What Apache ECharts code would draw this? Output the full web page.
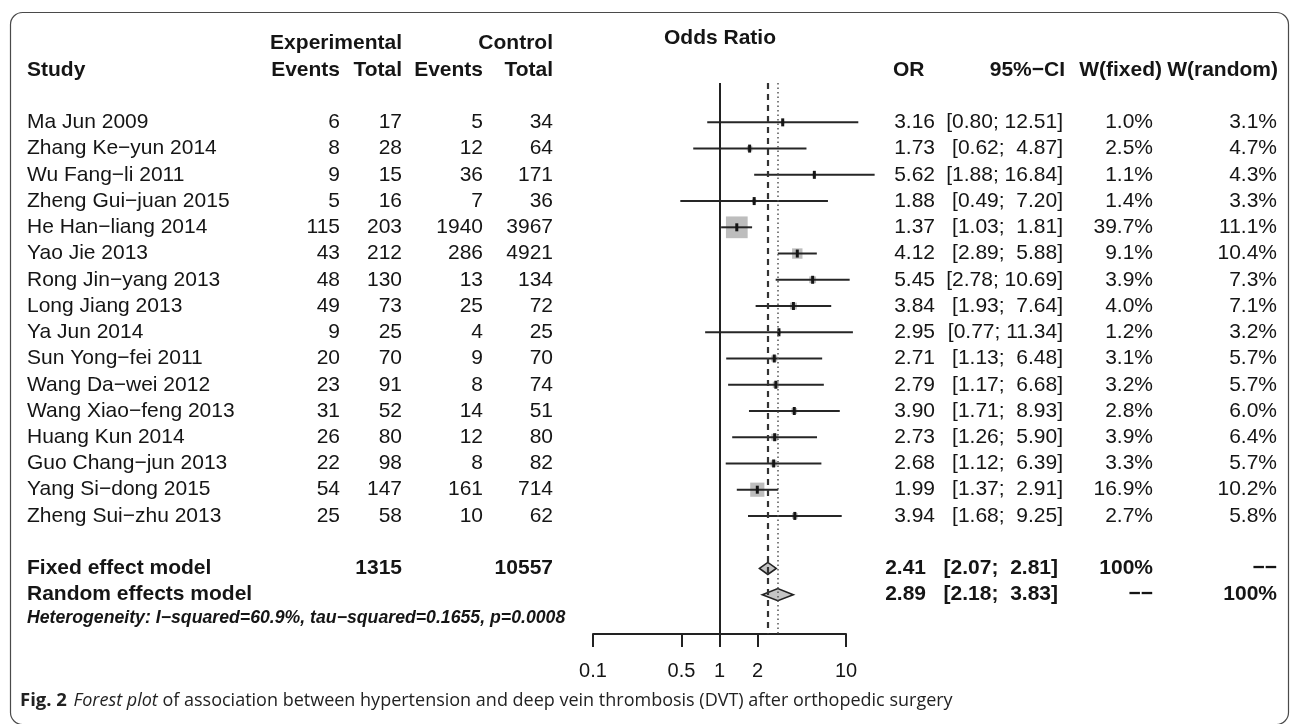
<!DOCTYPE html>
<html><head><meta charset="utf-8">
<script src="https://cdn.jsdelivr.net/npm/echarts@6/dist/echarts.min.js"></script>
<style>html,body{margin:0;padding:0;background:#fff}#c{width:1295px;height:724px}</style>
</head><body><div id="c"></div>
<script>
// ---------------- data ----------------
const studies = ["Ma Jun 2009","Zhang Ke\u2212yun 2014","Wu Fang\u2212li 2011","Zheng Gui\u2212juan 2015","He Han\u2212liang 2014","Yao Jie 2013","Rong Jin\u2212yang 2013","Long Jiang 2013","Ya Jun 2014","Sun Yong\u2212fei 2011","Wang Da\u2212wei 2012","Wang Xiao\u2212feng 2013","Huang Kun 2014","Guo Chang\u2212jun 2013","Yang Si\u2212dong 2015","Zheng Sui\u2212zhu 2013"];
const expEvents  = [6, 8, 9, 5, 115, 43, 48, 49, 9, 20, 23, 31, 26, 22, 54, 25];
const expTotal   = [17, 28, 15, 16, 203, 212, 130, 73, 25, 70, 91, 52, 80, 98, 147, 58];
const ctrlEvents = [5, 12, 36, 7, 1940, 286, 13, 25, 4, 9, 8, 14, 12, 8, 161, 10];
const ctrlTotal  = [34, 64, 171, 36, 3967, 4921, 134, 72, 25, 70, 74, 51, 80, 82, 714, 62];
const oddsRatio  = [3.16, 1.73, 5.62, 1.88, 1.37, 4.12, 5.45, 3.84, 2.95, 2.71, 2.79, 3.90, 2.73, 2.68, 1.99, 3.94];
const ciLower    = [0.80, 0.62, 1.88, 0.49, 1.03, 2.89, 2.78, 1.93, 0.77, 1.13, 1.17, 1.71, 1.26, 1.12, 1.37, 1.68];
const ciUpper    = [12.51, 4.87, 16.84, 7.20, 1.81, 5.88, 10.69, 7.64, 11.34, 6.48, 6.68, 8.93, 5.90, 6.39, 2.91, 9.25];
const weightFixed  = [1.0, 2.5, 1.1, 1.4, 39.7, 9.1, 3.9, 4.0, 1.2, 3.1, 3.2, 2.8, 3.9, 3.3, 16.9, 2.7];
const weightRandom = [3.1, 4.7, 4.3, 3.3, 11.1, 10.4, 7.3, 7.1, 3.2, 5.7, 5.7, 6.0, 6.4, 5.7, 10.2, 5.8];

const summaryNames = ["Fixed effect model", "Random effects model"];
const summaryOR    = [2.41, 2.89];
const summaryLower = [2.07, 2.18];
const summaryUpper = [2.81, 3.83];
const summaryWFixed  = ["100%", "\u2212\u2212"];
const summaryWRandom = ["\u2212\u2212", "100%"];
const totalExp  = 1315;
const totalCtrl = 10557;
const hetText = "Heterogeneity: I\u2212squared=60.9%, tau\u2212squared=0.1655, p=0.0008";
const axisTitle = "Odds Ratio";
const tickValues = [0.1, 0.5, 1, 2, 10];
const headerTop = ["Experimental", "Control"];
const headerCols = ["Study", "Events", "Total", "Events", "Total", "OR", "95%\u2212CI", "W(fixed)", "W(random)"];
const caption = ["Fig. 2", "Forest plot", " of association between hypertension and deep vein thrombosis (DVT) after orthopedic surgery"];

// ---------------- layout ----------------
const FONT = 'Liberation Sans';
const FS = 21;
const ROW_H1 = -3, ROW_H2 = -2, ROW_FIXED = 17, ROW_RANDOM = 18, ROW_HET = 19;
const X = {study: 27, ee: 340, et: 402, ce: 483, ct: 553, orHead: 893, or: 935, orSum: 926,
           ciHead: 1065, ci: 1063, ciSum: 1058, wfHead: 1162, wf: 1153, wrHead: 1278, wr: 1277, oddsTitle: 720};
const TXT = '#151515';

function ciText(lo, hi) {
  return '[' + lo.toFixed(2).padStart(4, ' ') + '; ' + hi.toFixed(2).padStart(5, ' ') + ']';
}

const cells = [];
function add(x, row, text, opt) {
  cells.push(Object.assign({x: x, row: row, text: String(text), align: 'right', weight: 'normal', fstyle: 'normal', size: FS}, opt || {}));
}
const B = {weight: 'bold'};
add(X.et, ROW_H1, headerTop[0], B);
add(X.ct, ROW_H1, headerTop[1], B);
add(X.oddsTitle, ROW_H1 - 0.2, axisTitle, {weight: 'bold', align: 'center'});
add(X.study, ROW_H2, headerCols[0], {weight: 'bold', align: 'left'});
add(X.ee, ROW_H2, headerCols[1], B);
add(X.et, ROW_H2, headerCols[2], B);
add(X.ce, ROW_H2, headerCols[3], B);
add(X.ct, ROW_H2, headerCols[4], B);
add(X.orHead, ROW_H2, headerCols[5], {weight: 'bold', align: 'left'});
add(X.ciHead, ROW_H2, headerCols[6], B);
add(X.wfHead, ROW_H2, headerCols[7], B);
add(X.wrHead, ROW_H2, headerCols[8], B);

studies.forEach(function (s, i) {
  add(X.study, i, s, {align: 'left'});
  add(X.ee, i, expEvents[i]);
  add(X.et, i, expTotal[i]);
  add(X.ce, i, ctrlEvents[i]);
  add(X.ct, i, ctrlTotal[i]);
  add(X.or, i, oddsRatio[i].toFixed(2));
  add(X.ci, i, ciText(ciLower[i], ciUpper[i]));
  add(X.wf, i, weightFixed[i].toFixed(1) + '%');
  add(X.wr, i, weightRandom[i].toFixed(1) + '%');
});
[ROW_FIXED, ROW_RANDOM].forEach(function (row, k) {
  add(X.study, row, summaryNames[k], {weight: 'bold', align: 'left'});
  if (k === 0) { add(X.et, row, totalExp, B); add(X.ct, row, totalCtrl, B); }
  add(X.orSum, row, summaryOR[k].toFixed(2), B);
  add(X.ciSum, row, ciText(summaryLower[k], summaryUpper[k]), B);
  add(X.wf, row, summaryWFixed[k], B);
  add(X.wr, row, summaryWRandom[k], B);
});
add(X.study, ROW_HET - 0.1, hetText, {weight: 'bold', fstyle: 'italic', align: 'left', size: 17.7});

const studyData = studies.map(function (s, i) { return [i, oddsRatio[i], ciLower[i], ciUpper[i], weightFixed[i]]; });
const summaryData = [[ROW_FIXED, summaryOR[0], summaryLower[0], summaryUpper[0]], [ROW_RANDOM, summaryOR[1], summaryLower[1], summaryUpper[1]]];

const chart = echarts.init(document.getElementById('c'), null, {renderer: 'canvas'});
const yCommon = {type: 'value', min: -1.5, max: 19.5, inverse: true, show: false};

chart.setOption({
  animation: false,
  backgroundColor: '#fff',
  grid: [
    {left: 593, width: 253, top: 83, height: 551},
    {left: 0, width: 1295, top: 83, height: 551}
  ],
  xAxis: [
    {type: 'log', gridIndex: 0, logBase: 10, min: 0.1, max: 10,
     axisLine: {show: true, onZero: false, lineStyle: {color: '#222', width: 2}},
     axisTick: {show: true, inside: false, length: 13, customValues: tickValues, lineStyle: {color: '#222', width: 2}},
     minorTick: {show: false},
     axisLabel: {customValues: tickValues, margin: 27, fontSize: 20, color: TXT, fontFamily: FONT,
                 showMinLabel: true, showMaxLabel: true, hideOverlap: false,
                 formatter: function (v) { return String(+(+v).toFixed(3)); }},
     splitLine: {show: false}},
    {type: 'value', gridIndex: 1, min: 0, max: 1295, show: false}
  ],
  yAxis: [Object.assign({gridIndex: 0}, yCommon), Object.assign({gridIndex: 1}, yCommon)],
  series: [
    {
      type: 'custom', xAxisIndex: 0, yAxisIndex: 0, clip: false, z: 3,
      data: studyData, encode: {x: [1, 2, 3], y: 0},
      renderItem: function (params, api) {
        const row = api.value(0), or = api.value(1), lo = api.value(2), hi = api.value(3), w = api.value(4);
        const pc = api.coord([or, row]), pl = api.coord([lo, row]), ph = api.coord([hi, row]);
        const s = 3.45 * Math.sqrt(w);
        return {type: 'group', children: [
          {type: 'rect', shape: {x: pc[0] - s / 2, y: pc[1] - s / 2, width: s, height: s}, style: {fill: '#bdbdbd'}},
          {type: 'line', shape: {x1: pl[0], y1: pl[1], x2: ph[0], y2: ph[1]}, style: {stroke: '#262626', lineWidth: 2}},
          {type: 'rect', shape: {x: pc[0] - 1.5, y: pc[1] - 4, width: 3, height: 8}, style: {fill: '#151515'}}
        ]};
      },
      markLine: {
        silent: true, symbol: 'none', label: {show: false},
        data: [
          {xAxis: 1, lineStyle: {type: 'solid', color: '#222', width: 2}},
          {xAxis: summaryOR[0], lineStyle: {type: [6, 5], color: '#333', width: 2.2}},
          {xAxis: summaryOR[1], lineStyle: {type: [1.5, 3], color: '#555', width: 1.5}}
        ]
      }
    },
    {
      type: 'custom', xAxisIndex: 0, yAxisIndex: 0, clip: false, z: 4,
      data: summaryData, encode: {x: [1, 2, 3], y: 0},
      renderItem: function (params, api) {
        const row = api.value(0), or = api.value(1), lo = api.value(2), hi = api.value(3);
        const l = api.coord([lo, row]), r = api.coord([hi, row]), t = api.coord([or, row - 0.23]), b = api.coord([or, row + 0.23]);
        return {type: 'polygon', shape: {points: [l, t, r, b]}, style: {fill: '#c4c4c4', stroke: '#222', lineWidth: 1.6}};
      }
    },
    {
      type: 'custom', xAxisIndex: 1, yAxisIndex: 1, clip: false, z: 5,
      data: cells.map(function (c, i) { return [c.x, c.row, i]; }), encode: {x: 0, y: 1},
      renderItem: function (params, api) {
        const c = cells[api.value(2)];
        const p = api.coord([api.value(0), api.value(1)]);
        return {type: 'text', x: p[0], y: p[1], style: {
          text: c.text, fill: TXT,
          fontFamily: FONT, fontSize: c.size, fontWeight: c.weight, fontStyle: c.fstyle,
          textAlign: c.align, textVerticalAlign: 'middle', align: c.align, verticalAlign: 'middle'
        }};
      }
    }
  ],
  graphic: [
    {type: 'rect', z: 0, silent: true, shape: {x: 10.5, y: 12.5, width: 1278, height: 712, r: 12},
     style: {fill: 'none', stroke: '#4a4a4a', lineWidth: 1.2}},
    {type: 'text', z: 10, left: 20, top: 691, silent: true, style: {
      text: '{b|' + caption[0] + '}  {i|' + caption[1] + '}{n|' + caption[2] + '}',
      fill: '#222',
      rich: {
        b: {fontWeight: 'bold', fontSize: 18.5, fontFamily: 'Open Sans', fill: '#222'},
        i: {fontStyle: 'italic', fontSize: 18, fontFamily: 'Open Sans', fill: '#222'},
        n: {fontSize: 18, fontFamily: 'Open Sans', fill: '#222'}
      }
    }}
  ]
});
</script>
</body></html>
